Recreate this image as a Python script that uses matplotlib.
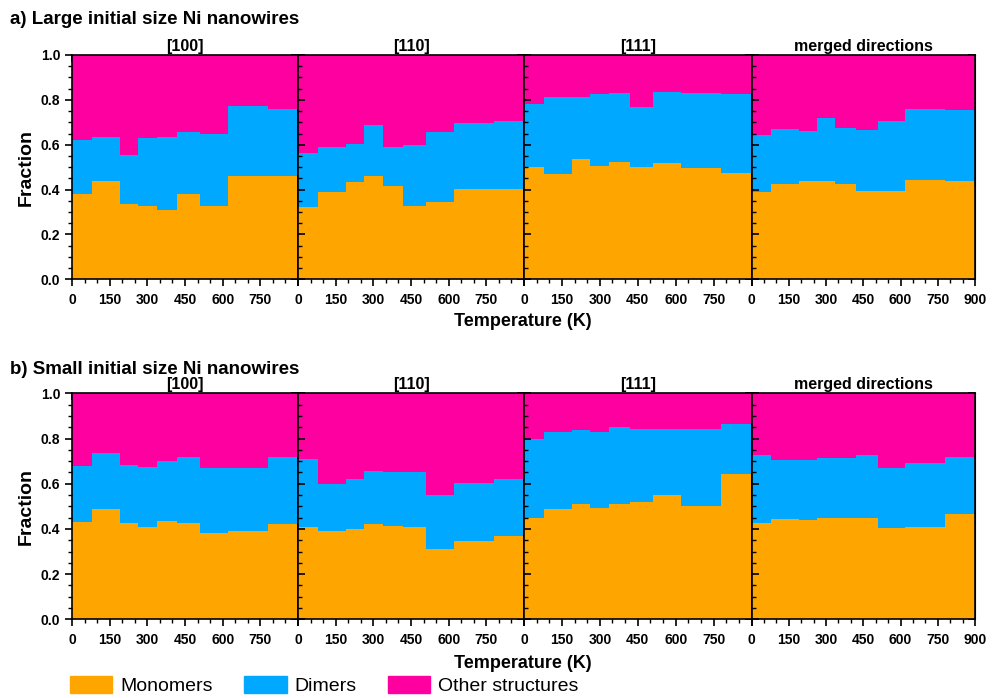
import matplotlib.pyplot as plt
import numpy as np
from matplotlib.patches import Patch
from matplotlib.ticker import MultipleLocator

plt.rcParams['font.family'] = ['Liberation Sans', 'DejaVu Sans']

# temperature bin edges (K), shared by every panel
t_edges = [0, 80, 190, 262, 337, 420, 510, 620, 780, 900]
directions = ['[100]', '[110]', '[111]', 'merged directions']

# a) large initial size: monomer and dimer fractions per bin, one list per direction
large_monomers = [
    [0.380, 0.440, 0.336, 0.327, 0.310, 0.380, 0.327, 0.462, 0.462],
    [0.321, 0.388, 0.435, 0.462, 0.416, 0.327, 0.346, 0.403, 0.403],
    [0.499, 0.469, 0.535, 0.505, 0.524, 0.502, 0.517, 0.495, 0.475],
    [0.391, 0.423, 0.440, 0.440, 0.425, 0.394, 0.395, 0.443, 0.440],
]
large_dimers = [
    [0.241, 0.193, 0.218, 0.302, 0.323, 0.275, 0.321, 0.312, 0.296],
    [0.241, 0.203, 0.168, 0.226, 0.175, 0.271, 0.312, 0.292, 0.304],
    [0.283, 0.345, 0.279, 0.321, 0.305, 0.268, 0.318, 0.337, 0.351],
    [0.252, 0.247, 0.223, 0.278, 0.248, 0.271, 0.312, 0.315, 0.315],
]

# b) small initial size
small_monomers = [
    [0.432, 0.487, 0.427, 0.410, 0.435, 0.427, 0.383, 0.392, 0.422],
    [0.410, 0.391, 0.398, 0.420, 0.413, 0.410, 0.310, 0.346, 0.369],
    [0.447, 0.487, 0.509, 0.491, 0.510, 0.518, 0.550, 0.503, 0.642],
    [0.428, 0.442, 0.440, 0.447, 0.447, 0.447, 0.403, 0.408, 0.465],
]
small_dimers = [
    [0.246, 0.250, 0.254, 0.262, 0.267, 0.290, 0.285, 0.276, 0.295],
    [0.299, 0.208, 0.223, 0.238, 0.237, 0.240, 0.240, 0.259, 0.250],
    [0.349, 0.343, 0.329, 0.339, 0.342, 0.325, 0.290, 0.337, 0.222],
    [0.299, 0.263, 0.265, 0.268, 0.268, 0.280, 0.268, 0.285, 0.252],
]

C_MONO = '#FFA500'
C_DIM = '#00A8FF'
C_OTHER = '#FF00A0'

W, H = 992, 698
fig = plt.figure(figsize=(W / 100, H / 100), dpi=100)

x_left = [72, 298, 524, 751.5]
x_right = [298, 524, 751.5, 975]
rows = [(55, 279.3), (393.3, 619.3)]


def style_axes(ax, col):
    ax.set_xlim(0, 900)
    ax.set_ylim(0, 1)
    ax.xaxis.set_major_locator(MultipleLocator(150))
    ax.xaxis.set_minor_locator(MultipleLocator(50))
    ax.yaxis.set_major_locator(MultipleLocator(0.2))
    ax.yaxis.set_minor_locator(MultipleLocator(0.05))
    ticks = np.arange(0, 901, 150)
    labels = [str(t) for t in ticks]
    if col < 3:
        labels[-1] = ''
    ax.set_xticks(ticks)
    ax.set_xticklabels(labels)
    ax.tick_params(axis='x', which='both', direction='out', top=False)
    ax.tick_params(axis='x', which='major', length=5, width=1.2, pad=5, labelsize=10)
    ax.tick_params(axis='x', which='minor', length=3, width=1.0)
    if col == 0:
        ax.tick_params(axis='y', which='both', direction='out', right=False)
        ax.set_yticks(np.arange(0, 1.01, 0.2))
        ax.set_yticklabels(['%.1f' % v for v in np.arange(0, 1.01, 0.2)])
    else:
        ax.tick_params(axis='y', which='both', direction='in', right=False, labelleft=False)
    ax.tick_params(axis='y', which='major', length=5, width=1.2, labelsize=10)
    ax.tick_params(axis='y', which='minor', length=3, width=1.0)
    for lab in ax.get_xticklabels() + ax.get_yticklabels():
        lab.set_fontweight('bold')
    for sp in ax.spines.values():
        sp.set_linewidth(1.2)
    sx = ax.secondary_xaxis('top')
    sx.xaxis.set_major_locator(MultipleLocator(150))
    sx.xaxis.set_minor_locator(MultipleLocator(50))
    sx.tick_params(axis='x', which='both', direction='in', labeltop=False)
    sx.tick_params(axis='x', which='major', length=5, width=1.2)
    sx.tick_params(axis='x', which='minor', length=3, width=1.0)
    sy = ax.secondary_yaxis('right')
    sy.yaxis.set_major_locator(MultipleLocator(0.2))
    sy.yaxis.set_minor_locator(MultipleLocator(0.05))
    sy.tick_params(axis='y', which='both', direction='in', labelright=False)
    sy.tick_params(axis='y', which='major', length=5, width=1.2)
    sy.tick_params(axis='y', which='minor', length=3, width=1.0)


datasets = [(large_monomers, large_dimers), (small_monomers, small_dimers)]
for r, (mono_all, dim_all) in enumerate(datasets):
    top_px, bot_px = rows[r]
    for c in range(4):
        ax = fig.add_axes([x_left[c] / W, 1 - bot_px / H,
                           (x_right[c] - x_left[c]) / W, (bot_px - top_px) / H])
        mono = np.array(mono_all[c])
        dim = np.array(dim_all[c])
        ax.stairs(mono, t_edges, baseline=0, fill=True, color=C_MONO, lw=0)
        ax.stairs(mono + dim, t_edges, baseline=mono, fill=True, color=C_DIM, lw=0)
        ax.stairs(np.ones_like(mono), t_edges, baseline=mono + dim, fill=True,
                  color=C_OTHER, lw=0)
        style_axes(ax, c)
        ax.set_title(directions[c], fontsize=11.5, fontweight='bold', pad=3)
        if c == 0:
            ax.set_ylabel('Fraction', fontsize=14, fontweight='bold', labelpad=4)

fig.text(10 / W, 1 - 20 / H, 'a) Large initial size Ni nanowires',
         fontsize=13.5, fontweight='bold', va='center', ha='left')
fig.text(10 / W, 1 - 369 / H, 'b) Small initial size Ni nanowires',
         fontsize=13.5, fontweight='bold', va='center', ha='left')
fig.text(523 / W, 1 - 322 / H, 'Temperature (K)', fontsize=13,
         fontweight='bold', va='center', ha='center')
fig.text(523 / W, 1 - 663 / H, 'Temperature (K)', fontsize=13,
         fontweight='bold', va='center', ha='center')

handles = [Patch(color=C_MONO), Patch(color=C_DIM), Patch(color=C_OTHER)]
fig.legend(handles, ['Monomers', 'Dimers', 'Other structures'],
           loc='upper left', bbox_to_anchor=(58 / W, 1 - 664 / H), ncol=3,
           frameon=False, fontsize=14, handlelength=2.2, handleheight=1.0,
           handletextpad=0.4, columnspacing=1.6, borderpad=0.1)

fig.savefig('out.png', dpi=100)
